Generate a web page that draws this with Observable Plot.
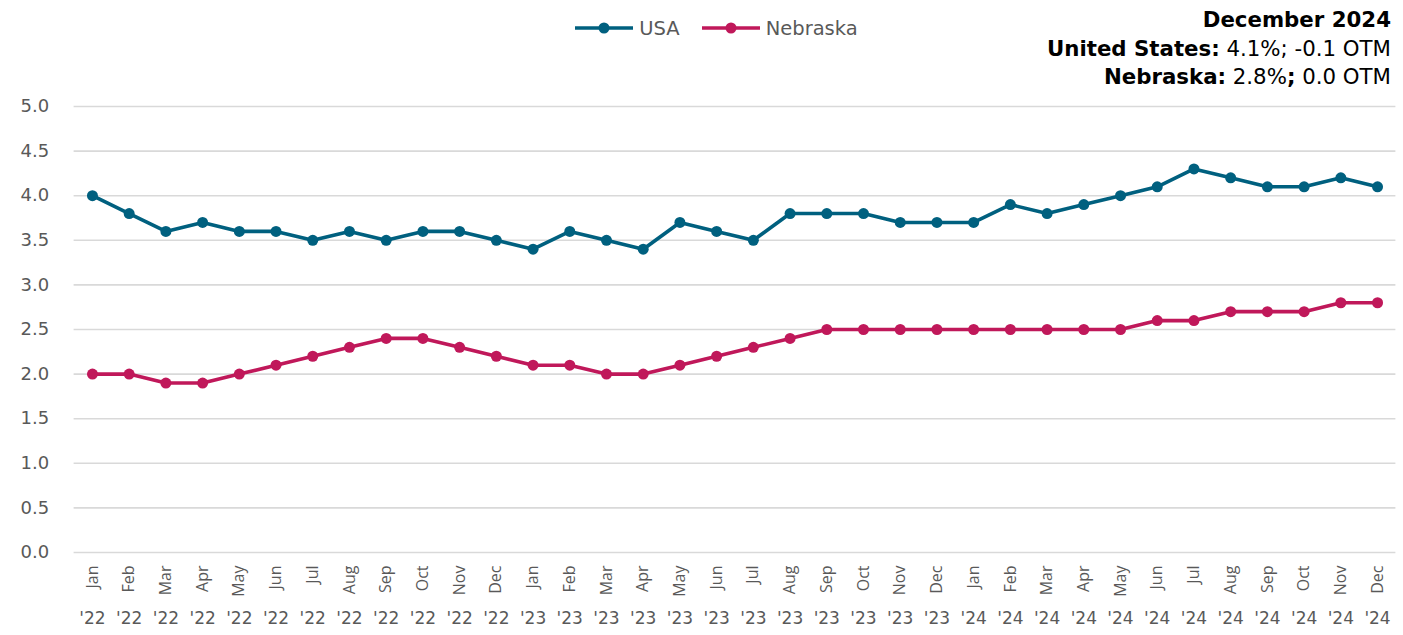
<!DOCTYPE html>
<html>
<head>
<meta charset="utf-8">
<script src="https://cdn.jsdelivr.net/npm/d3@7"></script>
<script src="https://cdn.jsdelivr.net/npm/@observablehq/plot@0.6"></script>
<style>
  html, body { margin: 0; padding: 0; background: #fff; }
  body { width: 1403px; height: 635px; overflow: hidden; font-family: "DejaVu Sans", sans-serif; }
  #head { position: relative; height: 95px; width: 1403px; }
  #legend { position: absolute; left: 15px; width: 1403px; top: 16px; text-align: center; font-size: 19.5px; color: #595959; }
  .item { display: inline-flex; align-items: center; margin: 0 11px; }
  .item svg { margin-right: 6px; }
  #title { position: absolute; right: 12px; top: 6px; text-align: right; font-size: 21.3px; line-height: 28.6px; color: #000; }
  #title b { font-weight: 700; }
  #chart svg { display: block; }
</style>
</head>
<body>
<div id="head">
  <div id="legend"></div>
  <div id="title">
    <div><b>December 2024</b></div>
    <div><b>United States:</b> 4.1%; -0.1 OTM</div>
    <div><b>Nebraska:</b> 2.8%<b>;</b> 0.0 OTM</div>
  </div>
</div>
<div id="chart"></div>
<script>
const months = ["Jan","Feb","Mar","Apr","May","Jun","Jul","Aug","Sep","Oct","Nov","Dec",
                "Jan","Feb","Mar","Apr","May","Jun","Jul","Aug","Sep","Oct","Nov","Dec",
                "Jan","Feb","Mar","Apr","May","Jun","Jul","Aug","Sep","Oct","Nov","Dec"];
const years = ["'22","'22","'22","'22","'22","'22","'22","'22","'22","'22","'22","'22",
               "'23","'23","'23","'23","'23","'23","'23","'23","'23","'23","'23","'23",
               "'24","'24","'24","'24","'24","'24","'24","'24","'24","'24","'24","'24"];
const usa = [4.0,3.8,3.6,3.7,3.6,3.6,3.5,3.6,3.5,3.6,3.6,3.5,
             3.4,3.6,3.5,3.4,3.7,3.6,3.5,3.8,3.8,3.8,3.7,3.7,
             3.7,3.9,3.8,3.9,4.0,4.1,4.3,4.2,4.1,4.1,4.2,4.1];
const nebraska = [2.0,2.0,1.9,1.9,2.0,2.1,2.2,2.3,2.4,2.4,2.3,2.2,
                  2.1,2.1,2.0,2.0,2.1,2.2,2.3,2.4,2.5,2.5,2.5,2.5,
                  2.5,2.5,2.5,2.5,2.5,2.6,2.6,2.7,2.7,2.7,2.8,2.8];
const yTicks = [0,0.5,1,1.5,2,2.5,3,3.5,4,4.5,5];
const seriesNames = ["USA","Nebraska"];
const seriesColors = ["#00607f","#c0185a"];

const idx = months.map((_, i) => i);
const rows = [];
idx.forEach(i => {
  rows.push({i, series: "USA", value: usa[i]});
  rows.push({i, series: "Nebraska", value: nebraska[i]});
});

// legend
const legend = document.getElementById("legend");
seriesNames.forEach((name, k) => {
  const span = document.createElement("span");
  span.className = "item";
  span.innerHTML = `<svg width="58" height="12"><line x1="0" x2="58" y1="6" y2="6" stroke="${seriesColors[k]}" stroke-width="3.5"/><circle cx="29" cy="6" r="5.5" fill="${seriesColors[k]}"/></svg>${name}`;
  legend.appendChild(span);
});

const chart = Plot.plot({
  width: 1403,
  height: 540,
  marginLeft: 73.6,
  marginRight: 7.6,
  marginTop: 11,
  marginBottom: 83,
  style: { fontFamily: "DejaVu Sans, sans-serif", color: "#595959", background: "#fff" },
  x: { type: "point", domain: idx, padding: 0.5, round: false, axis: null },
  y: { domain: [0, 5], axis: null },
  color: { domain: seriesNames, range: seriesColors },
  marks: [
    Plot.gridY(yTicks, { stroke: "#d9d9d9", strokeOpacity: 1, strokeWidth: 1.6 }),
    Plot.axisY(yTicks, { tickSize: 0, tickPadding: 25, tickFormat: d => d.toFixed(1), fontSize: 18, fill: "#595959", label: null }),
    Plot.axisX(idx, { tickSize: 0, tickPadding: 13, tickRotate: -90, tickFormat: i => months[i], fontSize: 16, fontFamily: "Open Sans, sans-serif", fill: "#595959", label: null }),
    Plot.text(idx, { x: d => d, frameAnchor: "bottom", dy: 71, text: i => years[i], fontSize: 17, fill: "#595959" }),
    Plot.line(rows, { x: "i", y: "value", z: "series", stroke: "series", strokeWidth: 3.6 }),
    Plot.dot(rows, { x: "i", y: "value", fill: "series", r: 5.5 })
  ]
});
document.getElementById("chart").appendChild(chart);
</script>
</body>
</html>
